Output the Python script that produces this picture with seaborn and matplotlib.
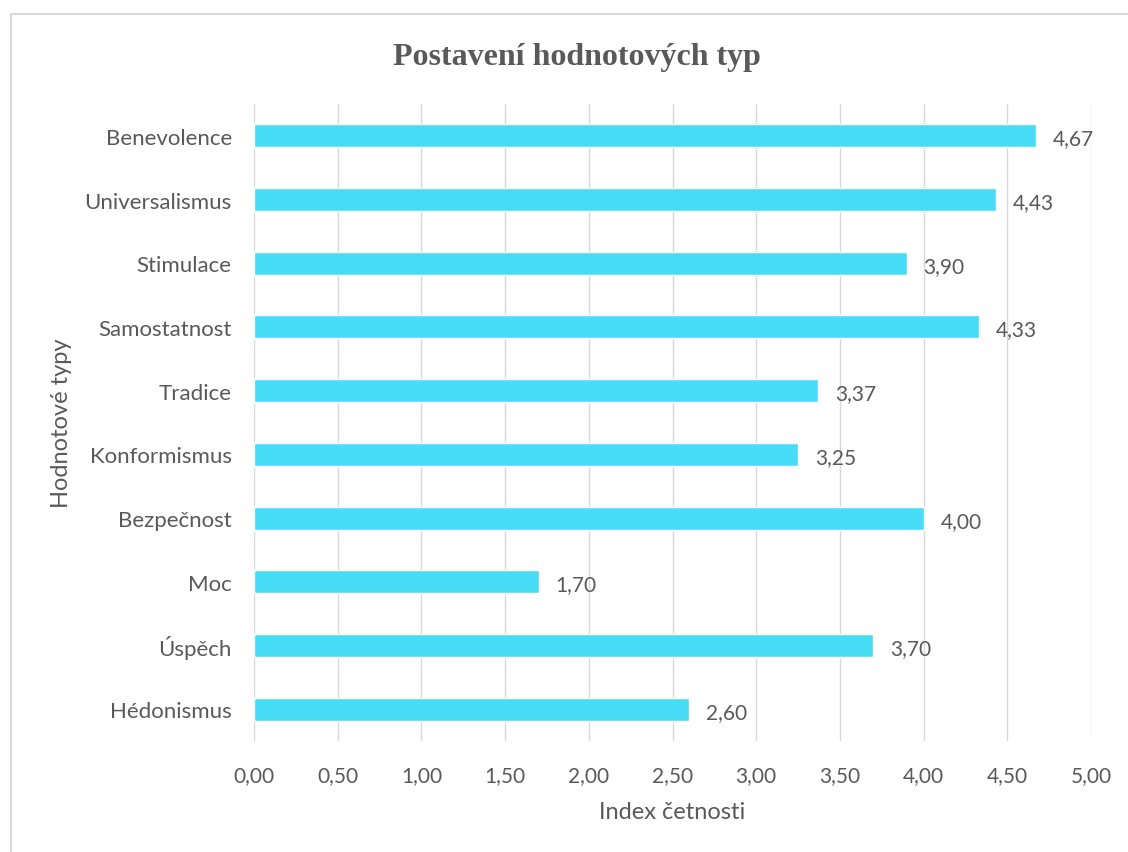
import numpy as np
import pandas as pd
import matplotlib
matplotlib.use("Agg")
import matplotlib.pyplot as plt
import seaborn as sns

categories = ["Benevolence", "Universalismus", "Stimulace", "Samostatnost", "Tradice",
              "Konformismus", "Bezpečnost", "Moc", "Úspěch", "Hédonismus"]
values = [4.67, 4.43, 3.90, 4.33, 3.37, 3.25, 4.00, 1.70, 3.70, 2.60]
xticks = [0, 0.5, 1, 1.5, 2, 2.5, 3, 3.5, 4, 4.5, 5]

df = pd.DataFrame({"typ": categories, "index": values})

sns.set_theme(style="white")
plt.rcParams['font.family'] = ['Lato', 'DejaVu Sans']
txt = "#595959"

fig = plt.figure(figsize=(11.28, 8.53), dpi=100)
ax = fig.add_axes([254/1128, 1-742/853, (1091-254)/1128, (742-105)/853])

sns.barplot(data=df, x="index", y="typ", color="#48DDF7", width=0.36, saturation=1,
            ax=ax, zorder=3)

ax.set_xlim(0, 5)
ax.set_xticks(xticks)
ax.set_xticklabels([f"{t:.2f}".replace(".", ",") for t in xticks], fontsize=15, color=txt)
ax.tick_params(axis="y", labelsize=16, labelcolor=txt, length=0, pad=16)
ax.tick_params(axis="x", length=0, pad=17)
ax.grid(axis="x", color="#D9D9D9", linewidth=1, zorder=0)
for s in ax.spines.values():
    s.set_visible(False)

for i, v in enumerate(values):
    ax.text(v + 0.1, i + 0.04, f"{v:.2f}".replace(".", ","), va="center", ha="left",
            fontsize=15, color=txt)

ax.set_xlabel("Index četnosti", fontsize=17, color=txt)
ax.set_ylabel("Hodnotové typy", fontsize=17, color=txt)
ax.xaxis.set_label_coords(0.5, (742-813)/637, transform=ax.transAxes)
ax.yaxis.set_label_coords((62-254)/837, (742-423)/637, transform=ax.transAxes)
ax.xaxis.label.set_va("center")
ax.yaxis.label.set_va("center")

fig.text(577/1128, 1-57/853, "Postavení hodnotových typ", ha="center", va="center",
         fontsize=23, fontweight="bold", color=txt, family="Liberation Serif")

fig.patches.append(plt.Rectangle((11/1128, -0.1), 1.2, 1-15/853+0.1, transform=fig.transFigure,
                                 fill=False, edgecolor="#D9D9D9", linewidth=1.5))

fig.savefig("out.png", dpi=100, facecolor="white")
